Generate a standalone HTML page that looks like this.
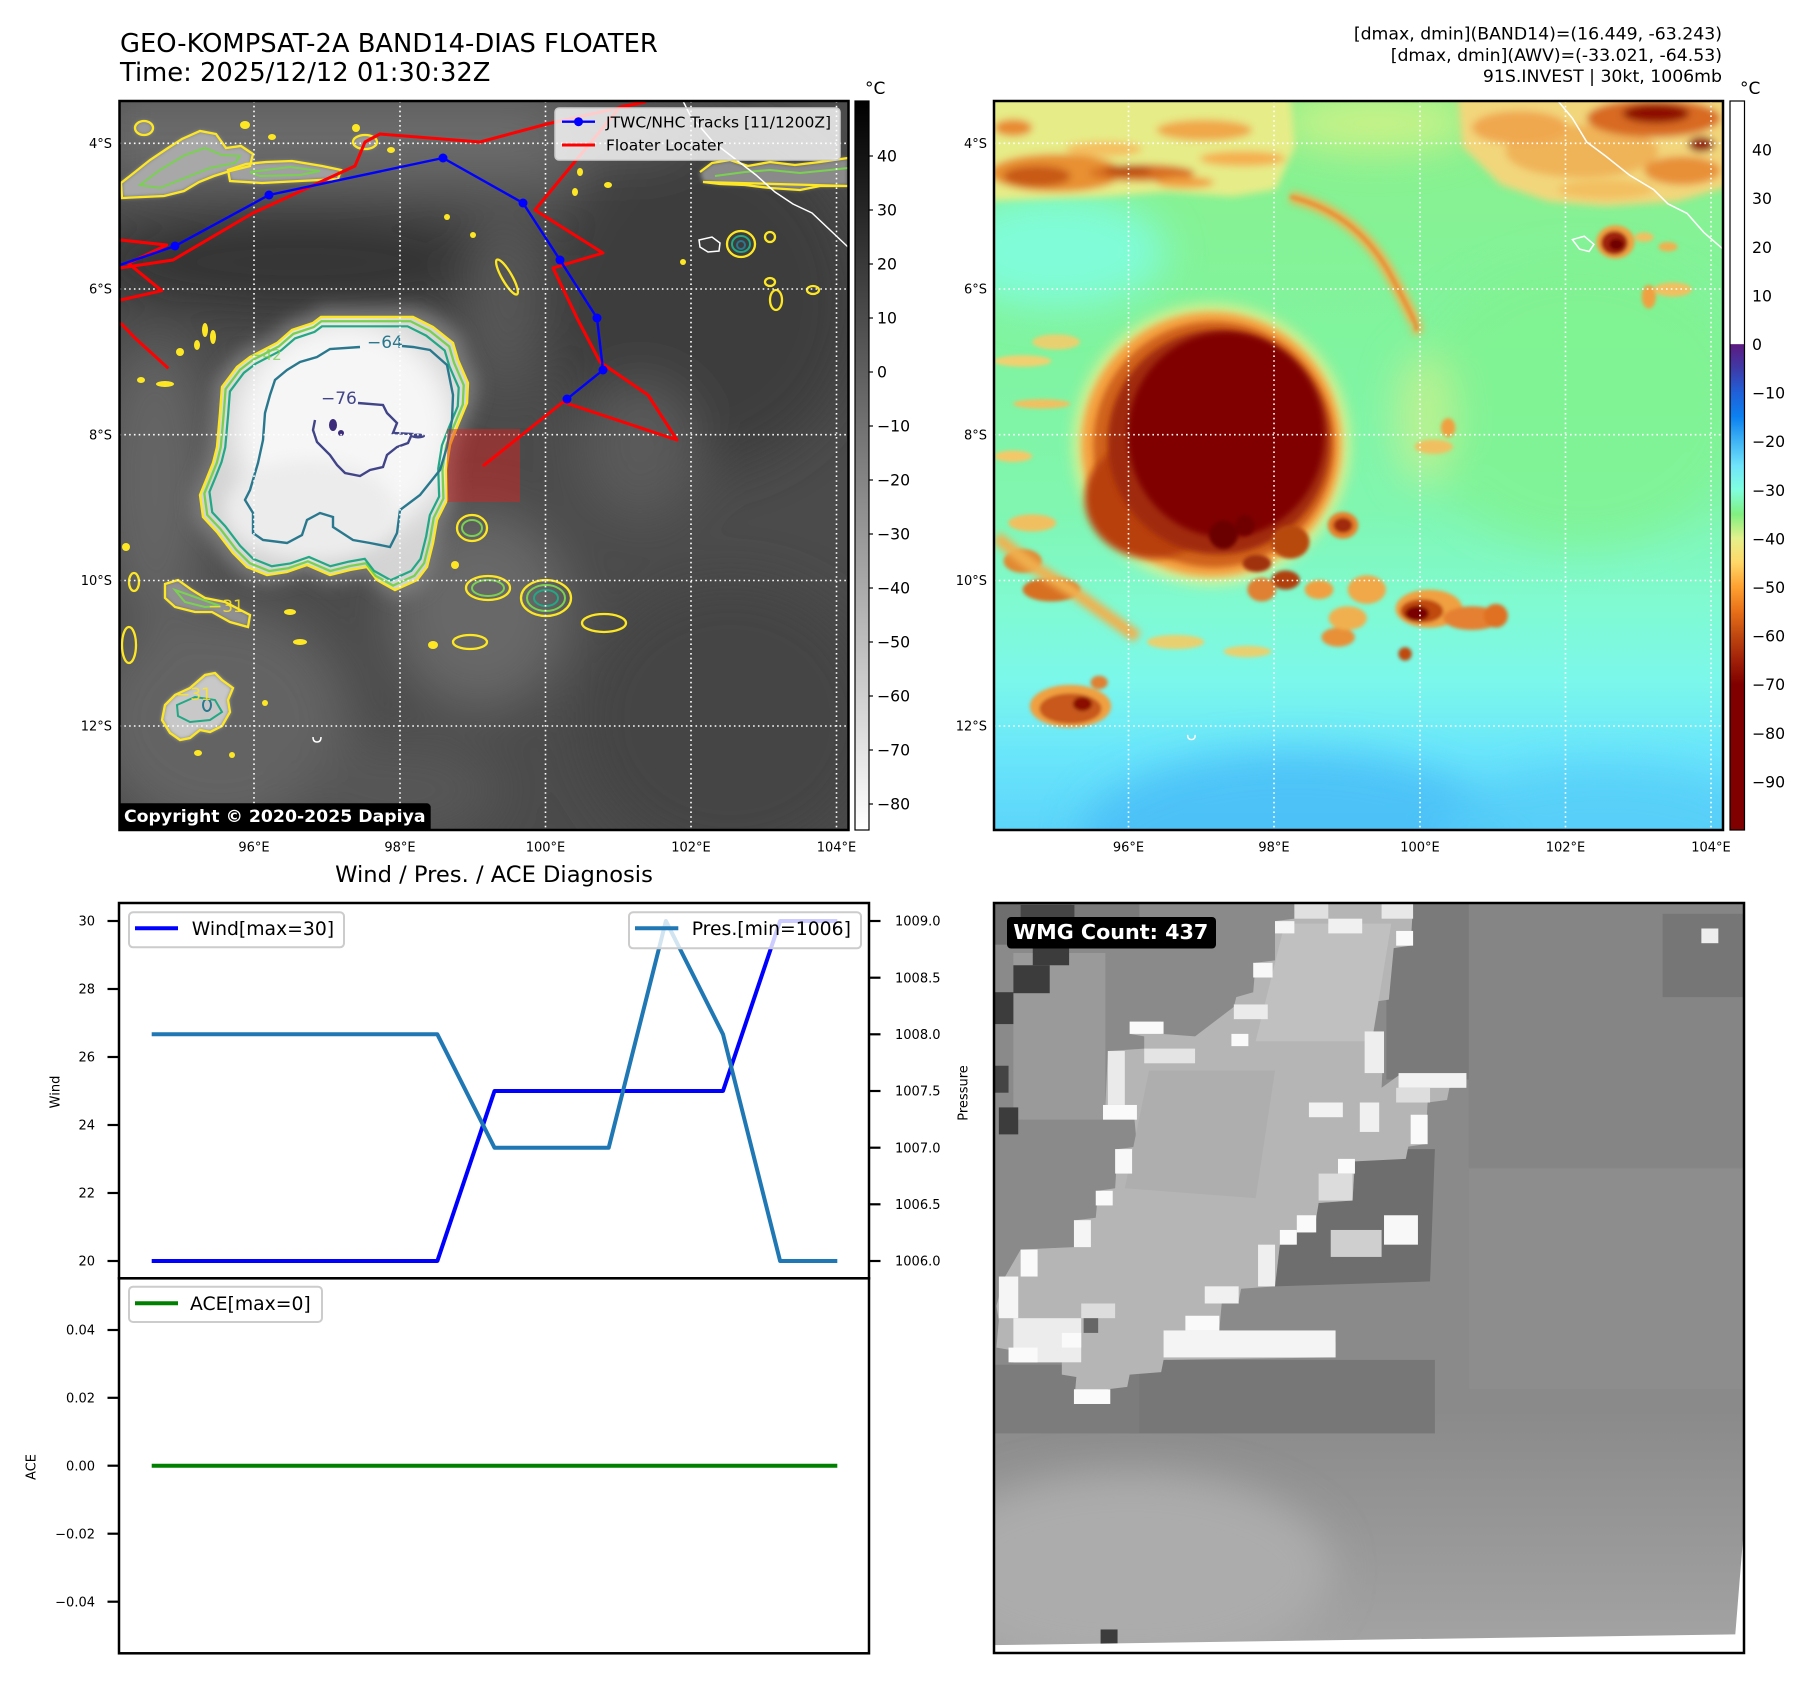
<!DOCTYPE html>
<html><head><meta charset="utf-8"><style>
html,body{margin:0;padding:0;background:#fff;}
svg{display:block;}
</style></head><body>
<svg xmlns="http://www.w3.org/2000/svg" width="1813" height="1690" viewBox="0 0 1813 1690" font-family="'DejaVu Sans','Liberation Sans',sans-serif">
<defs>
<filter id="f2" x="-50%" y="-50%" width="200%" height="200%"><feGaussianBlur stdDeviation="2"/></filter>
<filter id="f4" x="-50%" y="-50%" width="200%" height="200%"><feGaussianBlur stdDeviation="4"/></filter>
<filter id="f6" x="-50%" y="-50%" width="200%" height="200%"><feGaussianBlur stdDeviation="6"/></filter>
<filter id="f8" x="-50%" y="-50%" width="200%" height="200%"><feGaussianBlur stdDeviation="8"/></filter>
<filter id="f14" x="-50%" y="-50%" width="200%" height="200%"><feGaussianBlur stdDeviation="14"/></filter>
<filter id="f25" x="-50%" y="-50%" width="200%" height="200%"><feGaussianBlur stdDeviation="25"/></filter>
<filter id="f40" x="-50%" y="-50%" width="200%" height="200%"><feGaussianBlur stdDeviation="40"/></filter>
<clipPath id="cA"><rect x="119.5" y="101" width="729" height="729"/></clipPath>
<clipPath id="cB"><rect x="994" y="101" width="729" height="729"/></clipPath>
<clipPath id="cD"><rect x="994" y="903" width="750" height="750"/></clipPath>
<clipPath id="cloud"><path d="M321,317 L387,317 L413,317 L433,327 L453,343 L458,360 L468,383 L467,403 L457,427 L450,445 L446,470 L447,500 L437,520 L433,543 L427,567 L417,580 L395,590 L377,580 L367,567 L350,570 L330,575 L307,565 L287,572 L267,575 L247,567 L233,553 L217,532 L203,517 L200,495 L207,478 L213,463 L217,447 L220,413 L222,387 L237,367 L250,357 L277,343 L292,330 L313,323 Z"/></clipPath>
<path id="cl" d="M321,317 L387,317 L413,317 L433,327 L453,343 L458,360 L468,383 L467,403 L457,427 L450,445 L446,470 L447,500 L437,520 L433,543 L427,567 L417,580 L395,590 L377,580 L367,567 L350,570 L330,575 L307,565 L287,572 L267,575 L247,567 L233,553 L217,532 L203,517 L200,495 L207,478 L213,463 L217,447 L220,413 L222,387 L237,367 L250,357 L277,343 L292,330 L313,323 Z"/>
<linearGradient id="gA" x1="0" y1="0" x2="0" y2="1"><stop offset="0" stop-color="#000"/><stop offset="1" stop-color="#fff"/></linearGradient>
<linearGradient id="gCB" x1="0" y1="0" x2="0" y2="1">
<stop offset="0" stop-color="#fff"/><stop offset="0.333" stop-color="#fff"/>
<stop offset="0.334" stop-color="#5c1a80"/><stop offset="0.367" stop-color="#3e3aa8"/>
<stop offset="0.4" stop-color="#2060d8"/><stop offset="0.433" stop-color="#0c80f0"/>
<stop offset="0.467" stop-color="#40b4f4"/><stop offset="0.5" stop-color="#70e4fa"/>
<stop offset="0.533" stop-color="#80ffe0"/><stop offset="0.567" stop-color="#80f080"/>
<stop offset="0.6" stop-color="#e4f08c"/><stop offset="0.633" stop-color="#ffd868"/>
<stop offset="0.667" stop-color="#ffa030"/><stop offset="0.7" stop-color="#e87018"/>
<stop offset="0.733" stop-color="#c04810"/><stop offset="0.767" stop-color="#a02008"/>
<stop offset="0.8" stop-color="#800000"/><stop offset="1" stop-color="#800000"/>
</linearGradient>
<linearGradient id="gB" x1="0" y1="0" x2="0" y2="1">
<stop offset="0" stop-color="#8cf08c"/><stop offset="0.15" stop-color="#86f294"/>
<stop offset="0.35" stop-color="#80f4a0"/><stop offset="0.55" stop-color="#80f6b0"/>
<stop offset="0.68" stop-color="#80fad0"/><stop offset="0.78" stop-color="#7cf8ea"/>
<stop offset="0.88" stop-color="#6ae6fb"/><stop offset="1" stop-color="#5ad2fa"/>
</linearGradient>
<linearGradient id="gDb" x1="0" y1="0" x2="0" y2="1"><stop offset="0" stop-color="#8a8a8a"/><stop offset="1" stop-color="#a4a4a4"/></linearGradient>
</defs>

<text x="120" y="52" font-size="25.8" fill="#000">GEO-KOMPSAT-2A BAND14-DIAS FLOATER</text>
<text x="120" y="81" font-size="25.8" fill="#000">Time: 2025/12/12 01:30:32Z</text>
<g font-size="17.3" fill="#000" text-anchor="end">
<text x="1722" y="39.5">[dmax, dmin](BAND14)=(16.449, -63.243)</text>
<text x="1722" y="61">[dmax, dmin](AWV)=(-33.021, -64.53)</text>
<text x="1722" y="82">91S.INVEST | 30kt, 1006mb</text>
</g>

<!-- ================= PANEL A ================= -->
<g clip-path="url(#cA)">
<rect x="119.5" y="101" width="729" height="729" fill="#4b4b4b"/>
<g filter="url(#f25)">
<rect x="100" y="90" width="480" height="95" fill="#6a6a6a"/>
<ellipse cx="300" cy="262" rx="215" ry="52" fill="#343434"/>
<ellipse cx="700" cy="300" rx="160" ry="170" fill="#3d3d3d"/>
<ellipse cx="730" cy="720" rx="150" ry="140" fill="#444"/>
<ellipse cx="640" cy="450" rx="60" ry="70" fill="#5a5a5a"/>
<ellipse cx="155" cy="480" rx="55" ry="140" fill="#656565"/>
<ellipse cx="220" cy="720" rx="130" ry="115" fill="#636363"/>
<ellipse cx="480" cy="610" rx="90" ry="100" fill="#676767"/>
<ellipse cx="505" cy="300" rx="35" ry="90" fill="#595959"/>
<ellipse cx="400" cy="790" rx="100" ry="50" fill="#575757"/>
<ellipse cx="620" cy="130" rx="80" ry="30" fill="#5a5a5a"/>
</g>
<use href="#cl" transform="translate(335 450) scale(1.07) translate(-335 -450)" fill="#7a7a7a" filter="url(#f8)"/>
<g filter="url(#f2)">
<path d="M121,183 L135,172 L150,160 L168,148 L182,139 L200,131 L216,134 L226,148 L241,146 L253,154 L250,166 L230,171 L214,176 L199,182 L184,191 L164,196 L143,197 L122,198 Z" fill="#a8a8a8"/>
<path d="M228,170 L246,164 L266,162 L292,161 L322,166 L341,170 L338,179 L300,181 L262,183 L230,181 Z" fill="#a0a0a0"/>
<ellipse cx="144" cy="128" rx="9" ry="7" fill="#999"/>
<ellipse cx="365" cy="142" rx="12" ry="7" fill="#999"/>
<path d="M700,172 L712,163 L730,160 L748,166 L770,162 L795,165 L820,162 L848,158 L848,186 L820,186 L800,190 L770,188 L745,185 L720,184 L703,182 Z" fill="#8a8a8a"/>
<path d="M165,584 L178,580 L192,590 L205,598 L225,602 L250,615 L248,627 L230,622 L212,612 L195,612 L175,607 L165,598 Z" fill="#909090"/>
<path d="M165,705 L175,695 L190,688 L205,675 L215,673 L222,680 L233,688 L228,700 L230,712 L222,726 L210,732 L200,730 L190,738 L180,740 L170,733 L162,720 Z" fill="#c8c8c8"/>
</g>
<use href="#cl" fill="#d4d4d4"/>
<g clip-path="url(#cloud)">
<ellipse cx="345" cy="430" rx="110" ry="110" fill="#f6f6f6" filter="url(#f14)"/>
<ellipse cx="310" cy="510" rx="85" ry="50" fill="#ececec" filter="url(#f8)"/>
</g>
<use href="#cl" fill="none" stroke="#fde725" stroke-width="2.4"/>
<use href="#cl" transform="translate(335 450) scale(.968) translate(-335 -450)" fill="none" stroke="#7ad151" stroke-width="2.4"/>
<use href="#cl" transform="translate(335 450) scale(.93) translate(-335 -450)" fill="none" stroke="#22a884" stroke-width="2.4"/>
<path d="M402,346 L413,347 L430,350 L447,365 L453,395 L452,420 L447,447 L440,470 L420,495 L400,510 L397,533 L390,547 L370,543 L353,540 L333,527 L333,517 L320,513 L307,520 L302,535 L287,543 L263,540 L253,533 L253,513 L245,500 L250,490 L258,463 L263,440 L265,413 L270,395 L275,380 L287,370 L300,362 L317,357 L330,349 L360,347" fill="none" stroke="#2a788e" stroke-width="2.4"/>
<path d="M358,403 L383,405 L387,413 L397,423 L393,433 L412,434 L408,443 L397,447 L387,455 L383,467 L370,470 L360,476 L345,473 L337,465 L330,455 L317,442 L313,430 L315,420" fill="none" stroke="#414487" stroke-width="2.4"/>
<ellipse cx="333" cy="425" rx="4" ry="6" fill="#3b2a7a"/>
<ellipse cx="341" cy="433" rx="3" ry="3" fill="#3b2a7a"/>
<ellipse cx="418" cy="436" rx="7" ry="2.5" fill="#414487"/>
<text x="367" y="348" font-size="17" fill="#2a788e">−64</text>
<text x="321" y="404" font-size="17" fill="#414487">−76</text>
<text x="250" y="360" font-size="15" fill="#7ad151" opacity="0.8">−42</text>
<g fill="none" stroke="#fde725" stroke-width="2.3">
<path d="M121,183 L135,172 L150,160 L168,148 L182,139 L200,131 L216,134 L226,148 L241,146 L253,154 L250,166 L230,171 L214,176 L199,182 L184,191 L164,196 L143,197 L122,198 Z"/>
<path d="M228,170 L246,164 L266,162 L292,161 L322,166 L341,170 L338,179 L300,181 L262,183 L230,181 Z"/>
<ellipse cx="144" cy="128" rx="9" ry="7"/>
<ellipse cx="365" cy="142" rx="12" ry="7"/>
<path d="M700,172 L712,163 L730,160 L748,166 L770,162 L795,165 L820,162 L848,158 M848,186 L820,186 L800,190 L770,188 L745,185 L720,184 L703,182 Z"/>
<path d="M165,584 L178,580 L192,590 L205,598 L225,602 L250,615 L248,627 L230,622 L212,612 L195,612 L175,607 L165,598 Z"/>
<path d="M165,705 L175,695 L190,688 L205,675 L215,673 L222,680 L233,688 L228,700 L230,712 L222,726 L210,732 L200,730 L190,738 L180,740 L170,733 L162,720 Z"/>
<ellipse cx="741" cy="244" rx="14" ry="13"/>
<ellipse cx="472" cy="528" rx="15" ry="13"/>
<ellipse cx="488" cy="588" rx="22" ry="12"/>
<ellipse cx="546" cy="598" rx="25" ry="18"/>
<ellipse cx="604" cy="623" rx="22" ry="9"/>
<ellipse cx="470" cy="642" rx="17" ry="7"/>
<ellipse cx="129" cy="645" rx="7" ry="18"/>
<ellipse cx="134" cy="582" rx="5" ry="9"/>
<ellipse cx="507" cy="277" rx="5" ry="20" transform="rotate(-30 507 277)"/>
<ellipse cx="776" cy="300" rx="6" ry="10"/>
<ellipse cx="770" cy="282" rx="5" ry="4"/>
<ellipse cx="813" cy="290" rx="6" ry="4"/>
<ellipse cx="770" cy="237" rx="5" ry="5"/>
</g>
<g fill="#fde725">
<ellipse cx="245" cy="125" rx="5" ry="4"/><ellipse cx="272" cy="137" rx="4" ry="3"/><ellipse cx="356" cy="128" rx="4" ry="4"/>
<ellipse cx="391" cy="150" rx="4" ry="3"/><ellipse cx="447" cy="217" rx="3" ry="3"/><ellipse cx="473" cy="235" rx="3" ry="3"/>
<ellipse cx="205" cy="330" rx="3" ry="7"/><ellipse cx="213" cy="337" rx="3" ry="7"/><ellipse cx="197" cy="345" rx="3" ry="5"/>
<ellipse cx="180" cy="352" rx="4" ry="4"/><ellipse cx="141" cy="380" rx="4" ry="3"/><ellipse cx="165" cy="384" rx="9" ry="3"/>
<ellipse cx="126" cy="547" rx="4" ry="4"/><ellipse cx="198" cy="753" rx="4" ry="3"/><ellipse cx="232" cy="755" rx="3" ry="3"/>
<ellipse cx="265" cy="703" rx="3" ry="3"/><ellipse cx="300" cy="642" rx="7" ry="3"/><ellipse cx="290" cy="612" rx="6" ry="3"/>
<ellipse cx="433" cy="645" rx="5" ry="4"/><ellipse cx="580" cy="172" rx="3" ry="4"/><ellipse cx="608" cy="185" rx="4" ry="3"/>
<ellipse cx="575" cy="192" rx="3" ry="4"/><ellipse cx="683" cy="262" rx="3" ry="3"/><ellipse cx="455" cy="565" rx="4" ry="4"/>
</g>
<g fill="none" stroke="#7ad151" stroke-width="2">
<path d="M140,185 L160,170 L185,155 L205,148 L222,155 L240,156 L235,163 L210,168 L185,178 L160,188 Z"/>
<path d="M250,172 L290,167 L320,171 L300,175 L260,176 Z"/>
<path d="M715,176 L745,172 L770,170 L800,173 L830,170 L848,168"/>
<ellipse cx="546" cy="598" rx="19" ry="13"/>
<ellipse cx="488" cy="588" rx="16" ry="8"/>
<ellipse cx="472" cy="528" rx="10" ry="8"/>
<path d="M175,590 L195,597 L220,606 L205,607 L185,602 Z"/>
</g>
<g fill="none" stroke="#22a884" stroke-width="2">
<ellipse cx="741" cy="244" rx="9" ry="8"/>
<ellipse cx="546" cy="598" rx="12" ry="8"/>
<path d="M177,705 L195,697 L215,700 L222,712 L210,720 L190,722 L178,716 Z"/>
</g>
<ellipse cx="741" cy="245" rx="4" ry="4" fill="none" stroke="#2a788e" stroke-width="2"/>
<ellipse cx="207" cy="705" rx="4" ry="6" fill="none" stroke="#2a788e" stroke-width="2"/>
<text x="208" y="612" font-size="17" fill="#fde725" opacity="0.85">−31</text>
<text x="176" y="700" font-size="17" fill="#fde725" opacity="0.85">−31</text>
<polyline points="683,101 690,115 713,142 730,155 756,175 775,192 793,204 812,213 830,230 848,247" fill="none" stroke="#fff" stroke-width="1.5"/>
<path d="M699,240 L712,237 L720,243 L719,251 L708,252 L700,247 Z" fill="none" stroke="#fff" stroke-width="1.5"/>
<path d="M313,737 q0,5 4,5 q4,0 4,-5" fill="none" stroke="#fff" stroke-width="1.5"/>
<g stroke="#fff" stroke-width="1.6" stroke-dasharray="1.6 3.2" fill="none">
<line x1="254" y1="101" x2="254" y2="830"/><line x1="400" y1="101" x2="400" y2="830"/>
<line x1="545.5" y1="101" x2="545.5" y2="830"/><line x1="691" y1="101" x2="691" y2="830"/>
<line x1="836.5" y1="101" x2="836.5" y2="830"/>
<line x1="119.5" y1="143.3" x2="848.5" y2="143.3"/><line x1="119.5" y1="289" x2="848.5" y2="289"/>
<line x1="119.5" y1="434.7" x2="848.5" y2="434.7"/><line x1="119.5" y1="580.5" x2="848.5" y2="580.5"/>
<line x1="119.5" y1="726" x2="848.5" y2="726"/>
</g>
<rect x="447" y="429" width="73" height="73" fill="#e02020" fill-opacity="0.45"/>
<g fill="none" stroke="#ff0000" stroke-width="3" stroke-linejoin="round">
<polyline points="120,268 173,260 253,213 355,166 365,142 380,134 480,142 547,124 645,102 620,107 535,210 603,253 553,268 578,320 600,362 648,395 677,440 563,402 483,466"/>
<polyline points="120.7,240 166.7,245 128.3,263.3 161.7,290.7 120.7,300"/>
<polyline points="120.7,323 135,338 168.3,368.3"/>
</g>
<polyline points="120,265 175,246 269,195 443,158 523,203 560,260 597,318 603,370 567,399" fill="none" stroke="#0000ff" stroke-width="2.4"/>
<g fill="#0000ff">
<circle cx="175" cy="246" r="4.5"/><circle cx="269" cy="195" r="4.5"/><circle cx="443" cy="158" r="4.5"/>
<circle cx="523" cy="203" r="4.5"/><circle cx="560" cy="260" r="4.5"/><circle cx="597" cy="318" r="4.5"/>
<circle cx="603" cy="370" r="4.5"/><circle cx="567" cy="399" r="4.5"/>
</g>
<rect x="555" y="108" width="285" height="52" rx="4" fill="#fff" fill-opacity="0.8" stroke="#cccccc" stroke-width="1.5"/>
<line x1="562" y1="121.7" x2="595" y2="121.7" stroke="#0000ff" stroke-width="2.4"/>
<circle cx="578.5" cy="121.7" r="4.5" fill="#0000ff"/>
<text x="606" y="127.3" font-size="15.5" fill="#000">JTWC/NHC Tracks [11/1200Z]</text>
<line x1="562" y1="145" x2="595" y2="145" stroke="#ff0000" stroke-width="3"/>
<text x="606" y="150.6" font-size="15.5" fill="#000">Floater Locater</text>
<rect x="117.7" y="803.3" width="313" height="32" rx="4" fill="#000"/>
<text x="124" y="822" font-size="17.3" font-weight="bold" fill="#fff">Copyright © 2020-2025 Dapiya</text>
</g>
<rect x="119.5" y="101" width="729" height="729" fill="none" stroke="#000" stroke-width="2.5"/>
<rect x="855" y="101" width="14" height="729" fill="url(#gA)" stroke="#000" stroke-width="1.2"/>
<text x="865" y="94" font-size="17" fill="#000">°C</text>
<g font-size="15.7" fill="#000">
<text x="877" y="161.7">40</text><text x="877" y="215.7">30</text><text x="877" y="269.7">20</text>
<text x="877" y="323.7">10</text><text x="877" y="377.7">0</text><text x="877" y="431.7">−10</text>
<text x="877" y="485.7">−20</text><text x="877" y="539.7">−30</text><text x="877" y="593.7">−40</text>
<text x="877" y="647.7">−50</text><text x="877" y="701.7">−60</text><text x="877" y="755.7">−70</text>
<text x="877" y="809.7">−80</text>
</g>
<g stroke="#000" stroke-width="1.2">
<line x1="869" y1="156" x2="873" y2="156"/><line x1="869" y1="210" x2="873" y2="210"/><line x1="869" y1="264" x2="873" y2="264"/>
<line x1="869" y1="318" x2="873" y2="318"/><line x1="869" y1="372" x2="873" y2="372"/><line x1="869" y1="426" x2="873" y2="426"/>
<line x1="869" y1="480" x2="873" y2="480"/><line x1="869" y1="534" x2="873" y2="534"/><line x1="869" y1="588" x2="873" y2="588"/>
<line x1="869" y1="642" x2="873" y2="642"/><line x1="869" y1="696" x2="873" y2="696"/><line x1="869" y1="750" x2="873" y2="750"/>
<line x1="869" y1="804" x2="873" y2="804"/>
</g>
<g font-size="13" fill="#000" text-anchor="middle">
<text x="254" y="851.5">96°E</text><text x="400" y="851.5">98°E</text><text x="545.5" y="851.5">100°E</text>
<text x="691" y="851.5">102°E</text><text x="836.5" y="851.5">104°E</text>
<text x="1128.5" y="851.5">96°E</text><text x="1274" y="851.5">98°E</text><text x="1420" y="851.5">100°E</text>
<text x="1565.5" y="851.5">102°E</text><text x="1711" y="851.5">104°E</text>
</g>
<g font-size="13" fill="#000" text-anchor="end">
<text x="112" y="148">4°S</text><text x="112" y="293.7">6°S</text><text x="112" y="439.4">8°S</text>
<text x="112" y="585.2">10°S</text><text x="112" y="730.7">12°S</text>
<text x="987" y="148">4°S</text><text x="987" y="293.7">6°S</text><text x="987" y="439.4">8°S</text>
<text x="987" y="585.2">10°S</text><text x="987" y="730.7">12°S</text>
</g>

<!-- ================= PANEL B ================= -->
<g clip-path="url(#cB)">
<g transform="translate(994 101) scale(0.478 0.4762) translate(-20 -14)">
<rect x="0" y="0" width="1570" height="1570" fill="url(#gB)"/>
<g filter="url(#f40)">
<ellipse cx="150" cy="330" rx="230" ry="120" fill="#80fcd8"/>
<ellipse cx="1250" cy="650" rx="350" ry="300" fill="#80f28e" opacity="0.7"/>
<ellipse cx="650" cy="1560" rx="450" ry="180" fill="#48bcf6" opacity="0.8"/>
<ellipse cx="1300" cy="1560" rx="350" ry="150" fill="#56cdf8" opacity="0.8"/>
<ellipse cx="820" cy="60" rx="200" ry="60" fill="#c8f288"/>
<ellipse cx="920" cy="680" rx="60" ry="140" fill="#c8f090" opacity="0.8"/>
</g>
<g filter="url(#f8)">
<path d="M0,0 L640,0 L650,110 L610,200 L520,215 L380,205 L250,215 L100,220 L0,224 Z" fill="#e6ec88"/>
<ellipse cx="150" cy="165" rx="140" ry="40" fill="#e89030"/>
<ellipse cx="110" cy="172" rx="70" ry="22" fill="#c85a14"/>
<ellipse cx="330" cy="165" rx="110" ry="18" fill="#d87020"/>
<ellipse cx="300" cy="160" rx="50" ry="10" fill="#b84a10"/>
<ellipse cx="460" cy="75" rx="100" ry="22" fill="#f0a848"/>
<ellipse cx="540" cy="135" rx="90" ry="16" fill="#f5b050"/>
<ellipse cx="60" cy="70" rx="40" ry="18" fill="#e88a30"/>
<ellipse cx="250" cy="115" rx="80" ry="16" fill="#f4c060"/>
<ellipse cx="420" cy="185" rx="60" ry="12" fill="#f0a040"/>
<path d="M990,0 L1570,0 L1570,190 L1450,225 L1300,235 L1180,225 L1080,190 L1000,110 Z" fill="#f2d67c"/>
<ellipse cx="1250" cy="120" rx="160" ry="55" fill="#f0b458"/>
<ellipse cx="1400" cy="50" rx="140" ry="40" fill="#d86a20"/>
<ellipse cx="1405" cy="40" rx="70" ry="20" fill="#8e0a00"/>
<ellipse cx="1500" cy="105" rx="28" ry="16" fill="#900800"/>
<ellipse cx="1460" cy="160" rx="80" ry="30" fill="#e89038"/>
<ellipse cx="1120" cy="70" rx="100" ry="35" fill="#f0a850"/>
<ellipse cx="1300" cy="200" rx="100" ry="20" fill="#f2c060"/>
<path d="M640,215 Q780,250 850,380 T900,490" fill="none" stroke="#f2b050" stroke-width="24"/>
</g>
<path d="M640,215 Q780,250 850,380 T900,490" fill="none" stroke="#e58a30" stroke-width="7" filter="url(#f4)"/>
<!-- big blob -->
<ellipse cx="475" cy="735" rx="290" ry="295" fill="#e8f08c" opacity="0.85" filter="url(#f14)"/>
<ellipse cx="475" cy="735" rx="272" ry="278" fill="#f4a040" filter="url(#f8)"/>
<ellipse cx="480" cy="735" rx="252" ry="258" fill="#d0641c" filter="url(#f6)"/>
<ellipse cx="350" cy="850" rx="140" ry="125" fill="#b84010" filter="url(#f8)"/>
<ellipse cx="490" cy="730" rx="232" ry="236" fill="#a02a08" filter="url(#f6)"/>
<ellipse cx="505" cy="715" rx="205" ry="215" fill="#800000" filter="url(#f6)"/>
<g filter="url(#f4)">
<ellipse cx="500" cy="925" rx="30" ry="30" fill="#6a0000"/>
<ellipse cx="545" cy="905" rx="20" ry="22" fill="#700000"/>
<ellipse cx="570" cy="985" rx="30" ry="18" fill="#a03010"/>
<ellipse cx="630" cy="1020" rx="30" ry="20" fill="#b04010"/>
<ellipse cx="640" cy="940" rx="40" ry="35" fill="#b84a10"/>
<ellipse cx="750" cy="905" rx="32" ry="28" fill="#e8802a"/>
<ellipse cx="750" cy="905" rx="20" ry="16" fill="#a02a08"/>
<ellipse cx="930" cy="1080" rx="70" ry="40" fill="#f0a040"/>
<ellipse cx="915" cy="1085" rx="45" ry="25" fill="#c04810"/>
<ellipse cx="905" cy="1090" rx="25" ry="16" fill="#7a0000"/>
<ellipse cx="1020" cy="1100" rx="60" ry="25" fill="#e58030"/>
<ellipse cx="1070" cy="1095" rx="25" ry="25" fill="#e07020"/>
<ellipse cx="880" cy="1175" rx="14" ry="14" fill="#c04810"/>
<ellipse cx="740" cy="1140" rx="35" ry="20" fill="#e89038"/>
<ellipse cx="180" cy="1285" rx="85" ry="45" fill="#f0a040"/>
<ellipse cx="180" cy="1290" rx="65" ry="32" fill="#c8581a"/>
<ellipse cx="205" cy="1280" rx="20" ry="15" fill="#8a1000"/>
<ellipse cx="240" cy="1235" rx="18" ry="14" fill="#e08030"/>
<ellipse cx="1320" cy="310" rx="40" ry="35" fill="#f0a040"/>
<ellipse cx="1318" cy="312" rx="28" ry="25" fill="#a02008"/>
<ellipse cx="1322" cy="315" rx="15" ry="12" fill="#700000"/>
<ellipse cx="1390" cy="425" rx="15" ry="25" fill="#f0a040"/>
<ellipse cx="1440" cy="410" rx="40" ry="15" fill="#f0c060"/>
<ellipse cx="1430" cy="320" rx="20" ry="10" fill="#f0b050"/>
<ellipse cx="1380" cy="300" rx="20" ry="10" fill="#f0c060"/>
<ellipse cx="580" cy="1040" rx="30" ry="25" fill="#e08030"/>
<ellipse cx="700" cy="1040" rx="30" ry="20" fill="#f0a040"/>
<ellipse cx="800" cy="1040" rx="40" ry="30" fill="#f0a848"/>
<ellipse cx="760" cy="1100" rx="40" ry="25" fill="#f0b050"/>
<ellipse cx="140" cy="1040" rx="60" ry="25" fill="#d87020"/>
<ellipse cx="80" cy="980" rx="40" ry="25" fill="#e08830"/>
<ellipse cx="80" cy="560" rx="60" ry="12" fill="#f0d070"/>
<ellipse cx="120" cy="650" rx="60" ry="10" fill="#f0c060"/>
<ellipse cx="60" cy="760" rx="40" ry="12" fill="#f4c868"/>
<ellipse cx="150" cy="520" rx="50" ry="16" fill="#e8d070"/>
<ellipse cx="100" cy="900" rx="50" ry="18" fill="#f0c060"/>
<ellipse cx="400" cy="1150" rx="60" ry="15" fill="#e8d070"/>
<ellipse cx="550" cy="1170" rx="50" ry="12" fill="#e8d070"/>
<ellipse cx="940" cy="740" rx="40" ry="15" fill="#f0c060"/>
<ellipse cx="970" cy="700" rx="15" ry="20" fill="#f0a040"/>
</g>
<path d="M25,930 L100,990 L180,1040 L250,1090 L320,1140" fill="none" stroke="#f0b050" stroke-width="26" filter="url(#f8)"/>
<polyline points="1200,14 1230,50 1260,100 1300,130 1350,170 1400,200 1430,230 1470,250 1505,290 1545,325" fill="none" stroke="#fff" stroke-width="3.2"/>
<path d="M1230,305 L1255,298 L1275,315 L1265,330 L1245,325 Z" fill="none" stroke="#fff" stroke-width="3.2"/>
<path d="M425,1345 q0,10 8,10 q8,0 8,-10" fill="none" stroke="#fff" stroke-width="3"/>
</g>
<g stroke="#fff" stroke-width="1.6" stroke-dasharray="1.6 3.2" fill="none">
<line x1="1128.5" y1="101" x2="1128.5" y2="830"/><line x1="1274" y1="101" x2="1274" y2="830"/>
<line x1="1420" y1="101" x2="1420" y2="830"/><line x1="1565.5" y1="101" x2="1565.5" y2="830"/>
<line x1="1711" y1="101" x2="1711" y2="830"/>
<line x1="994" y1="143.3" x2="1723" y2="143.3"/><line x1="994" y1="289" x2="1723" y2="289"/>
<line x1="994" y1="434.7" x2="1723" y2="434.7"/><line x1="994" y1="580.5" x2="1723" y2="580.5"/>
<line x1="994" y1="726" x2="1723" y2="726"/>
</g>
</g>
<rect x="994" y="101" width="729" height="729" fill="none" stroke="#000" stroke-width="2.5"/>
<rect x="1730" y="101" width="14.5" height="729" fill="url(#gCB)" stroke="#000" stroke-width="1.2"/>
<text x="1740" y="94" font-size="17" fill="#000">°C</text>
<g font-size="15.7" fill="#000">
<text x="1752" y="155.6">40</text><text x="1752" y="204.2">30</text><text x="1752" y="252.8">20</text>
<text x="1752" y="301.4">10</text><text x="1752" y="350">0</text><text x="1752" y="398.6">−10</text>
<text x="1752" y="447.2">−20</text><text x="1752" y="495.8">−30</text><text x="1752" y="544.4">−40</text>
<text x="1752" y="593">−50</text><text x="1752" y="641.6">−60</text><text x="1752" y="690.2">−70</text>
<text x="1752" y="738.8">−80</text><text x="1752" y="787.4">−90</text>
</g>

<!-- ================= PANEL C ================= -->
<text x="494" y="882" font-size="22.6" fill="#000" text-anchor="middle">Wind / Pres. / ACE Diagnosis</text>
<polyline points="151.7,1261 437.35,1261 494.5,1091 723,1091 780.1,921 837.3,921" fill="none" stroke="#0000ff" stroke-width="4" stroke-linejoin="round"/>
<polyline points="151.7,1034.3 437.35,1034.3 494.5,1147.7 608.7,1147.7 665.9,921 723,1034.3 780.1,1261 837.3,1261" fill="none" stroke="#1f77b4" stroke-width="4" stroke-linejoin="round"/>
<rect x="129" y="912.3" width="215" height="35" rx="4" fill="#fff" fill-opacity="0.8" stroke="#cccccc" stroke-width="2"/>
<line x1="135" y1="928.3" x2="178" y2="928.3" stroke="#0000ff" stroke-width="4"/>
<text x="191.7" y="935" font-size="18.8" fill="#000">Wind[max=30]</text>
<rect x="629" y="912.3" width="232" height="36" rx="4" fill="#fff" fill-opacity="0.8" stroke="#cccccc" stroke-width="2"/>
<line x1="635" y1="928.3" x2="678.3" y2="928.3" stroke="#1f77b4" stroke-width="4"/>
<text x="691.7" y="935" font-size="18.8" fill="#000">Pres.[min=1006]</text>
<rect x="119" y="903" width="750" height="375.3" fill="none" stroke="#000" stroke-width="2.5"/>
<g stroke="#000" stroke-width="2.2">
<line x1="107.5" y1="921" x2="119" y2="921"/><line x1="107.5" y1="989" x2="119" y2="989"/>
<line x1="107.5" y1="1057" x2="119" y2="1057"/><line x1="107.5" y1="1125" x2="119" y2="1125"/>
<line x1="107.5" y1="1193" x2="119" y2="1193"/><line x1="107.5" y1="1261" x2="119" y2="1261"/>
<line x1="869" y1="921" x2="880.5" y2="921"/><line x1="869" y1="977.7" x2="880.5" y2="977.7"/>
<line x1="869" y1="1034.3" x2="880.5" y2="1034.3"/><line x1="869" y1="1091" x2="880.5" y2="1091"/>
<line x1="869" y1="1147.7" x2="880.5" y2="1147.7"/><line x1="869" y1="1204.3" x2="880.5" y2="1204.3"/>
<line x1="869" y1="1261" x2="880.5" y2="1261"/>
<line x1="107.5" y1="1330" x2="119" y2="1330"/><line x1="107.5" y1="1397.8" x2="119" y2="1397.8"/>
<line x1="107.5" y1="1465.7" x2="119" y2="1465.7"/><line x1="107.5" y1="1533.7" x2="119" y2="1533.7"/>
<line x1="107.5" y1="1601.7" x2="119" y2="1601.7"/>
</g>
<g font-size="13" fill="#000" text-anchor="end">
<text x="95" y="925.7">30</text><text x="95" y="993.7">28</text><text x="95" y="1061.7">26</text>
<text x="95" y="1129.7">24</text><text x="95" y="1197.7">22</text><text x="95" y="1265.7">20</text>
<text x="95" y="1334.7">0.04</text><text x="95" y="1402.5">0.02</text><text x="95" y="1470.4">0.00</text>
<text x="95" y="1538.4">−0.02</text><text x="95" y="1606.4">−0.04</text>
</g>
<g font-size="13" fill="#000">
<text x="895" y="925.7">1009.0</text><text x="895" y="982.4">1008.5</text><text x="895" y="1039">1008.0</text>
<text x="895" y="1095.7">1007.5</text><text x="895" y="1152.4">1007.0</text><text x="895" y="1209">1006.5</text>
<text x="895" y="1265.7">1006.0</text>
</g>
<text transform="translate(59.5 1092) rotate(-90)" font-size="13" fill="#000" text-anchor="middle">Wind</text>
<text transform="translate(967.5 1093) rotate(-90)" font-size="13" fill="#000" text-anchor="middle">Pressure</text>
<text transform="translate(35.5 1467) rotate(-90)" font-size="13" fill="#000" text-anchor="middle">ACE</text>
<line x1="151.7" y1="1465.7" x2="837.3" y2="1465.7" stroke="#008000" stroke-width="4"/>
<rect x="129" y="1286.7" width="193" height="35.3" rx="4" fill="#fff" fill-opacity="0.8" stroke="#cccccc" stroke-width="2"/>
<line x1="135" y1="1303.3" x2="178" y2="1303.3" stroke="#008000" stroke-width="4"/>
<text x="190" y="1310" font-size="18.8" fill="#000">ACE[max=0]</text>
<rect x="119" y="1278.3" width="750" height="375" fill="none" stroke="#000" stroke-width="2.5"/>

<!-- ================= PANEL D ================= -->
<g clip-path="url(#cD)">
<g transform="translate(994 903) scale(0.4845 0.4902) translate(-20 -18)">
<rect x="0" y="0" width="1600" height="1600" fill="#8a8a8a"/>
<rect x="1000" y="18" width="570" height="540" fill="#858585"/>
<rect x="1000" y="560" width="570" height="450" fill="#8d8d8d"/>
<rect x="0" y="1050" width="1600" height="500" fill="url(#gDb)"/>
<ellipse cx="300" cy="1380" rx="420" ry="200" fill="#acacac" filter="url(#f40)"/>
<rect x="60" y="120" width="190" height="340" fill="#9a9a9a"/>
<rect x="20" y="18" width="160" height="85" fill="#6e6e6e"/>
<rect x="180" y="18" width="140" height="45" fill="#7a7a7a"/>
<rect x="830" y="18" width="170" height="360" fill="#7a7a7a"/>
<path d="M640,520 L930,520 L920,790 L600,800 L610,715 L645,690 L680,690 L690,630 L760,625 L765,545 Z" fill="#6e6e6e"/>
<rect x="300" y="950" width="630" height="150" fill="#777"/>
<rect x="20" y="960" width="300" height="140" fill="#7c7c7c"/>
<rect x="1400" y="40" width="168" height="170" fill="#767676"/>
<g fill="#3c3c3c">
<rect x="75" y="22" width="111" height="25" fill="#454545"/>
<rect x="100" y="100" width="75" height="45"/>
<rect x="60" y="145" width="75" height="57"/>
<rect x="20" y="200" width="40" height="65"/>
<rect x="20" y="350" width="30" height="55" fill="#444"/>
<rect x="30" y="435" width="40" height="55"/>
<rect x="240" y="1500" width="35" height="30"/>
</g>
<path d="M640,18 L885,18 L880,105 L845,110 L835,215 L800,220 L800,280 L825,285 L820,395 L855,370 L995,365 L995,390 L960,395 L955,420 L915,425 L910,510 L875,515 L870,540 L765,545 L760,625 L690,630 L680,690 L645,690 L640,715 L610,715 L600,800 L530,805 L525,830 L490,835 L485,890 L660,890 L725,915 L725,945 L370,950 L365,975 L300,980 L295,1005 L255,1010 L255,1040 L185,1040 L190,985 L160,980 L160,955 L55,955 L55,930 L25,925 L30,870 L25,840 L40,785 L75,725 L185,720 L190,665 L230,660 L235,605 L270,600 L275,520 L315,515 L310,460 L245,455 L250,430 L255,320 L330,315 L330,290 L300,285 L300,260 L365,260 L365,285 L435,290 L515,230 L520,210 L555,200 L560,140 L600,135 L600,55 L640,50 Z" fill="#b5b5b5"/>
<path d="M620,60 L840,60 L800,300 L560,300 Z" fill="#c0c0c0"/>
<path d="M340,360 L600,360 L560,620 L290,600 Z" fill="#aeaeae"/>
<g>
<rect x="640" y="20" width="70" height="30" fill="#e0e0e0"/><rect x="600" y="55" width="40" height="25" fill="#f5f5f5"/>
<rect x="710" y="50" width="70" height="30" fill="#f0f0f0"/><rect x="820" y="20" width="65" height="30" fill="#e8e8e8"/>
<rect x="850" y="75" width="35" height="30" fill="#fafafa"/><rect x="555" y="140" width="40" height="30" fill="#f8f8f8"/>
<rect x="515" y="225" width="70" height="30" fill="#ebebeb"/><rect x="510" y="285" width="35" height="25" fill="#fafafa"/>
<rect x="300" y="260" width="70" height="25" fill="#fafafa"/><rect x="330" y="315" width="105" height="30" fill="#e4e4e4"/>
<rect x="255" y="320" width="35" height="110" fill="#eaeaea"/><rect x="245" y="430" width="70" height="30" fill="#fafafa"/>
<rect x="785" y="280" width="40" height="85" fill="#eeeeee"/><rect x="855" y="365" width="140" height="30" fill="#f2f2f2"/>
<rect x="850" y="395" width="70" height="30" fill="#dddddd"/><rect x="880" y="450" width="35" height="60" fill="#fafafa"/>
<rect x="670" y="425" width="70" height="30" fill="#f2f2f2"/><rect x="775" y="425" width="40" height="60" fill="#f0f0f0"/>
<rect x="730" y="540" width="35" height="30" fill="#fafafa"/><rect x="690" y="570" width="70" height="55" fill="#dcdcdc"/>
<rect x="645" y="655" width="40" height="35" fill="#fafafa"/><rect x="610" y="685" width="35" height="30" fill="#fafafa"/>
<rect x="565" y="715" width="35" height="85" fill="#efefef"/><rect x="715" y="685" width="105" height="55" fill="#cfcfcf"/>
<rect x="825" y="655" width="70" height="60" fill="#f8f8f8"/><rect x="455" y="800" width="70" height="35" fill="#f0f0f0"/>
<rect x="415" y="860" width="70" height="30" fill="#fafafa"/><rect x="30" y="780" width="40" height="85" fill="#f5f5f5"/>
<rect x="60" y="865" width="140" height="90" fill="#ececec"/><rect x="50" y="925" width="60" height="30" fill="#fafafa"/>
<rect x="370" y="890" width="355" height="55" fill="#f4f4f4"/><rect x="160" y="895" width="40" height="30" fill="#fafafa"/>
<rect x="185" y="1010" width="75" height="30" fill="#fafafa"/><rect x="270" y="520" width="35" height="50" fill="#f8f8f8"/>
<rect x="230" y="605" width="35" height="30" fill="#fafafa"/><rect x="185" y="665" width="35" height="55" fill="#f5f5f5"/>
<rect x="75" y="725" width="35" height="55" fill="#fafafa"/><rect x="200" y="835" width="70" height="30" fill="#dddddd"/>
<rect x="1480" y="70" width="35" height="30" fill="#eeeeee"/>
<rect x="205" y="865" width="30" height="30" fill="#666"/>
</g>
<path d="M20,1532 L1550,1510 L1568,1290 L1600,1290 L1600,1600 L0,1600 L0,1532 Z" fill="#fff"/>
</g>
<rect x="1007" y="917" width="209" height="31.5" rx="4" fill="#000"/>
<text x="1013.3" y="939" font-size="20.7" font-weight="bold" fill="#fff">WMG Count: 437</text>
</g>
<rect x="994" y="903" width="750" height="750" fill="none" stroke="#000" stroke-width="2.5"/>
</svg>
</body></html>
